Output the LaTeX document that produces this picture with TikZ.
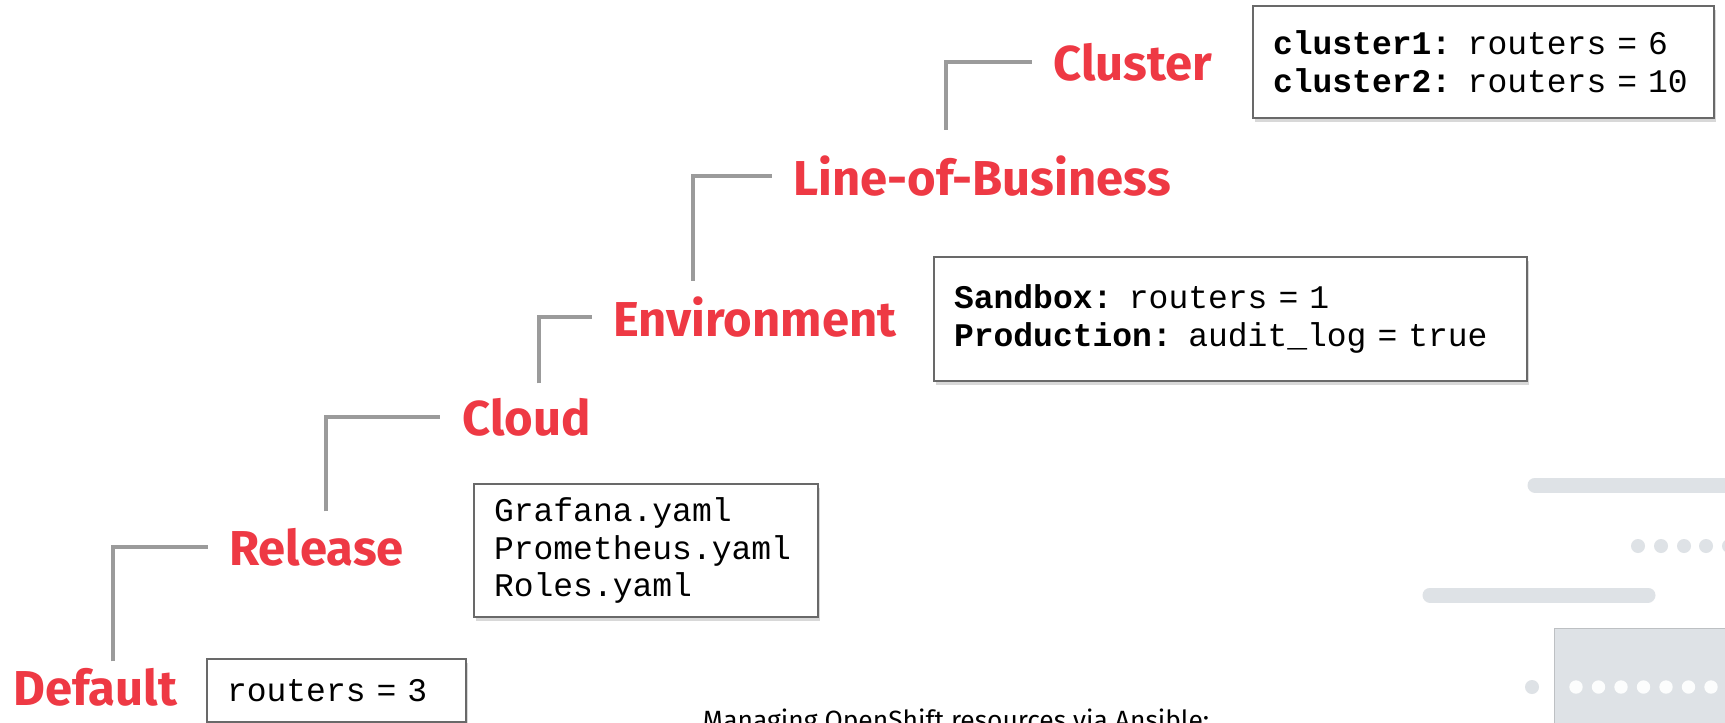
\documentclass[tikz,border=0pt]{standalone}
\usepackage{fontspec}
\setsansfont{Fira Sans}
\setmonofont{Liberation Mono}
\usetikzlibrary{calc,shadows}
\definecolor{tierred}{RGB}{238,57,68}
\definecolor{linkgray}{RGB}{155,155,155}
\definecolor{boxgray}{RGB}{105,105,105}
\definecolor{decogray}{RGB}{222,226,230}
\tikzset{tier/.style={anchor=base west,inner sep=0pt,text=tierred,font=\sffamily\bfseries\fontsize{24.5pt}{26pt}\selectfont}}
\tikzset{link/.style={draw=linkgray,line width=2pt}}
\tikzset{vars/.style={draw=boxgray,line width=1pt,fill=white,anchor=north west,align=left,inner xsep=10pt,inner ysep=0pt,font=\ttfamily\fontsize{16.5pt}{18.8pt}\selectfont,drop shadow={shadow xshift=1pt,shadow yshift=-2pt,opacity=.3}}}
\tikzset{deco/.style={draw=decogray,line width=7.5pt,line cap=round}}

\begin{document}
\begin{tikzpicture}[x=0.5pt,y=-0.5pt]

\useasboundingbox (0,0) rectangle (1725,723);
\fill[white] (0,0) rectangle (1725,723);
\clip (0,0) rectangle (1725,723);

% background ornaments, bottom right
\draw[deco] (1535,485) -- (1740,485);
\draw[deco] (1430,595) -- (1648,595);
\foreach \x in {1638,1661,1684,1706,1729} \fill[decogray] (\x,546) circle (7);
\fill[decogray] (1532,687) circle (7);
\filldraw[fill=decogray,draw=decogray!85!black] (1554,628) rectangle (1740,740);
\foreach \x in {0,...,6} \fill[white!92!decogray] (1576+22.5*\x,687) circle (6.7);

% tiers
\node[tier] (cluster) at (1053,80) {Cluster};
\node[tier] (lob) at (793,195) {Line-of-Business};
\node[tier] (env) at (613,336) {Environment};
\node[tier] (cloud) at (462,435) {Cloud};
\node[tier] (release) at (229,565) {Release};
\node[tier] (default) at (13,705) {Default};

\draw[link] ($(lob.north west)+(153,-25)$) |- ($(cluster.west)+(-21,0)$);
\draw[link] ($(env.north west)+(80,-15)$) |- ($(lob.west)+(-21,0)$);
\draw[link] ($(cloud.north west)+(77,-14)$) |- ($(env.west)+(-21,0)$);
\draw[link] ($(release.north west)+(97,-16)$) |- ($(cloud.west)+(-22,0)$);
\draw[link] ($(default.north west)+(100,-6)$) |- ($(release.west)+(-21,0)$);

% variables per tier
\node[vars,text width=210.5pt,minimum height=56pt] (clustervars) at (1252,5)
  {\textbf{cluster1:} routers = 6\\\textbf{cluster2:} routers = 10};
\node[vars,text width=276.5pt,minimum height=62pt] (envvars) at (933,256)
  {\textbf{Sandbox:} routers = 1\\\textbf{Production:} audit\_log = true};
\node[vars,text width=152pt,minimum height=66.5pt] (cloudvars) at (473,483)
  {Grafana.yaml\\Prometheus.yaml\\Roles.yaml};
\node[vars,text width=109.5pt,minimum height=31.5pt] (defaultvars) at (206,658)
  {routers = 3};

\node[anchor=base,inner sep=0pt,font=\sffamily\fontsize{13.2pt}{15pt}\selectfont] (caption) at (956,729)
  {Managing OpenShift resources via Ansible:};

\end{tikzpicture}
\end{document}
